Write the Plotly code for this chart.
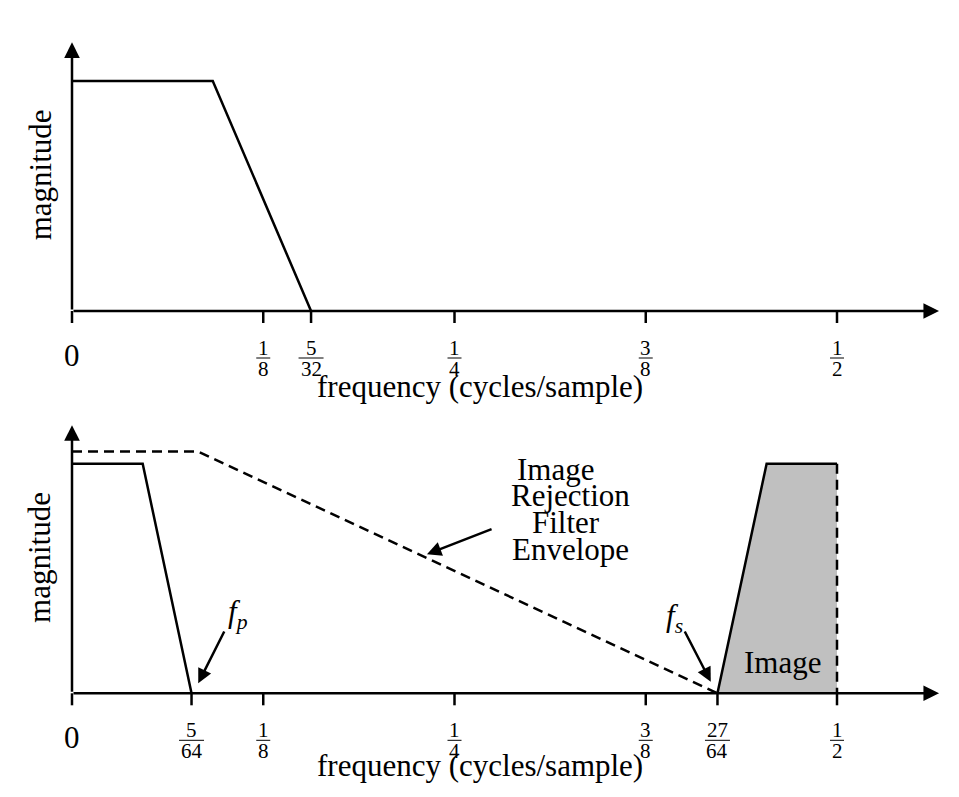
import plotly.graph_objects as go

# ---------------- data ----------------
TOP_FREQ = [0, 0.092, 5/32]
TOP_MAG = [1, 1, 0]

SIG_FREQ = [0, 0.0462, 5/64]
SIG_MAG = [1, 1, 0]

ENV_FREQ = [0, 0.0823, 27/64]
ENV_MAG = [1.054, 1.054, 0]

IMG_FREQ = [27/64, 0.454, 0.5]
IMG_MAG = [0, 1, 1]
IMG_EDGE_FREQ = [0.5, 0.5]
IMG_EDGE_MAG = [1, 0]

TOP_TICKS = [0, 1/8, 5/32, 1/4, 3/8, 1/2]
TOP_TICK_LABELS = ["0", "1/8", "5/32", "1/4", "3/8", "1/2"]
BOT_TICKS = [0, 5/64, 1/8, 1/4, 3/8, 27/64, 1/2]
BOT_TICK_LABELS = ["0", "5/64", "1/8", "1/4", "3/8", "27/64", "1/2"]

X_LABEL = "frequency (cycles/sample)"
Y_LABEL = "magnitude"

FONT = "Liberation Serif"
LW = 2.5
FS = 31
FRAC_FS = 21

fig = go.Figure()

# top panel
fig.add_trace(go.Scatter(x=TOP_FREQ, y=TOP_MAG, mode="lines",
                         line=dict(color="black", width=LW), xaxis="x", yaxis="y"))
# bottom panel
fig.add_trace(go.Scatter(x=IMG_FREQ + IMG_EDGE_FREQ[1:], y=IMG_MAG + IMG_EDGE_MAG[1:],
                         mode="lines", fill="toself", fillcolor="#c0c0c0",
                         line=dict(width=0), xaxis="x2", yaxis="y2"))
fig.add_trace(go.Scatter(x=SIG_FREQ, y=SIG_MAG, mode="lines",
                         line=dict(color="black", width=LW), xaxis="x2", yaxis="y2"))
fig.add_trace(go.Scatter(x=ENV_FREQ, y=ENV_MAG, mode="lines",
                         line=dict(color="black", width=LW, dash="10px,6px"), xaxis="x2", yaxis="y2"))
fig.add_trace(go.Scatter(x=IMG_FREQ, y=IMG_MAG, mode="lines",
                         line=dict(color="black", width=LW), xaxis="x2", yaxis="y2"))
fig.add_trace(go.Scatter(x=IMG_EDGE_FREQ, y=IMG_EDGE_MAG, mode="lines",
                         line=dict(color="black", width=LW, dash="10px,6px"), xaxis="x2", yaxis="y2"))

XR = [-72/1530, (959-72)/1530]
split = 1 - 400/797
ax_common = dict(visible=False, showgrid=False, zeroline=False, fixedrange=True)
fig.update_layout(
    width=959, height=797, margin=dict(l=0, r=0, t=0, b=0),
    paper_bgcolor="white", plot_bgcolor="white", showlegend=False,
    xaxis=dict(range=XR, domain=[0, 1], anchor="y", **ax_common),
    yaxis=dict(range=[(311-400)/230, 311/230], domain=[split, 1], anchor="x", **ax_common),
    xaxis2=dict(range=XR, domain=[0, 1], anchor="y2", **ax_common),
    yaxis2=dict(range=[(693.3-797)/229.5, (693.3-400)/229.5], domain=[0, split], anchor="x2", **ax_common),
    font=dict(family=FONT, color="black"),
)

ARROW_X_END = 0.5667
ARROW_Y_END = 1.168

def arrow(xr, yr, x, y, ax, ay, size=1.15):
    fig.add_annotation(xref=xr, yref=yr, axref=xr, ayref=yr, x=x, y=y, ax=ax, ay=ay,
                       text="", showarrow=True, arrowhead=2, arrowsize=size,
                       arrowwidth=LW, arrowcolor="black", standoff=0, startstandoff=0)

shapes = []
for xr, yr, ticks, labels, xlab_shift in [("x", "y", TOP_TICKS, TOP_TICK_LABELS, -75),
                                         ("x2", "y2", BOT_TICKS, BOT_TICK_LABELS, -72)]:
    # axes with arrows
    arrow(xr, yr, ARROW_X_END, 0, 0, 0, 1.25)
    arrow(xr, yr, 0, ARROW_Y_END, 0, 0, 1.25)
    for t, lab in zip(ticks, labels):
        shapes.append(dict(type="line", xref=xr, yref=yr, x0=t, x1=t,
                           ysizemode="pixel", yanchor=0, y0=0, y1=-12,
                           line=dict(color="black", width=LW)))
        if "/" in lab:
            num, den = lab.split("/")
            fig.add_annotation(xref=xr, yref=yr, x=t, y=0, yshift=-37, text=num,
                               showarrow=False, font=dict(size=FRAC_FS), yanchor="middle")
            fig.add_annotation(xref=xr, yref=yr, x=t, y=0, yshift=-58, text=den,
                               showarrow=False, font=dict(size=FRAC_FS), yanchor="middle")
            w = 11 * max(len(num), len(den)) + 3
            shapes.append(dict(type="line", xref=xr, yref=yr, xsizemode="pixel", xanchor=t,
                               x0=-w/2, x1=w/2, ysizemode="pixel", yanchor=0, y0=-47, y1=-47,
                               line=dict(color="black", width=1)))
        else:
            fig.add_annotation(xref=xr, yref=yr, x=t, y=0, yshift=-44, text=lab,
                               showarrow=False, font=dict(size=FS), yanchor="middle")
    # axis titles
    fig.add_annotation(xref=xr, yref=yr, x=0.2667, y=0, yshift=xlab_shift, text=X_LABEL,
                       showarrow=False, font=dict(size=FS), yanchor="middle")
    fig.add_annotation(xref=xr, yref=yr, x=-0.0209, y=0.59, text=Y_LABEL, textangle=-90,
                       showarrow=False, font=dict(size=FS), xanchor="center", yanchor="middle")

# bottom panel annotations
ENV_TEXT = ["Image", "Rejection", "Filter", "Envelope"]
ENV_TEXT_X = [0.3157, 0.3261, 0.3229, 0.3255]
ENV_TEXT_Y = [0.975, 0.862, 0.745, 0.628]
for txt, tx, ty in zip(ENV_TEXT, ENV_TEXT_X, ENV_TEXT_Y):
    fig.add_annotation(xref="x2", yref="y2", x=tx, y=ty, text=txt, showarrow=False,
                       font=dict(size=FS), yanchor="middle")
arrow("x2", "y2", 0.2320, 0.606, 0.2752, 0.718)           # envelope arrow
arrow("x2", "y2", 0.0825, 0.044, 0.1000, 0.276)           # f_p arrow
arrow("x2", "y2", 0.4175, 0.050, 0.4000, 0.276)           # f_s arrow
fig.add_annotation(xref="x2", yref="y2", x=0.1085, y=0.345, text="<i>f</i><sub><i>p</i></sub>",
                   showarrow=False, font=dict(size=FS), yanchor="middle")
fig.add_annotation(xref="x2", yref="y2", x=0.3935, y=0.330, text="<i>f</i><sub><i>s</i></sub>",
                   showarrow=False, font=dict(size=FS), yanchor="middle")
fig.add_annotation(xref="x2", yref="y2", x=0.4647, y=0.135, text="Image",
                   showarrow=False, font=dict(size=FS), yanchor="middle")

fig.update_layout(shapes=shapes)
fig.write_html("out.html")
